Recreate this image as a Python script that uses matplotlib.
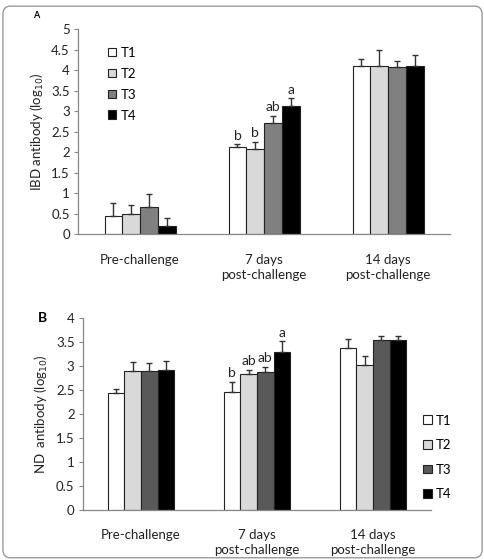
import numpy as np
import matplotlib.pyplot as plt
from matplotlib.patches import FancyBboxPatch

plt.rcParams['font.family'] = ['Lato', 'DejaVu Sans']

groups = ["Pre-challenge", "7 days\npost-challenge", "14 days\npost-challenge"]
treatments = ["T1", "T2", "T3", "T4"]

# IBD antibody (log10) means and upper SE
ibd_mean = [[0.43, 2.12, 4.10],
            [0.50, 2.07, 4.10],
            [0.67, 2.70, 4.07],
            [0.19, 3.12, 4.10]]
ibd_err = [[0.32, 0.07, 0.18],
           [0.20, 0.18, 0.38],
           [0.30, 0.18, 0.16],
           [0.20, 0.19, 0.28]]
ibd_letters = [["", "b", ""], ["", "b", ""], ["", "ab", ""], ["", "a", ""]]

# ND antibody (log10)
nd_mean = [[2.43, 2.46, 3.37],
           [2.90, 2.83, 3.01],
           [2.89, 2.87, 3.53],
           [2.92, 3.30, 3.55]]
nd_err = [[0.10, 0.20, 0.20],
          [0.18, 0.09, 0.19],
          [0.17, 0.11, 0.09],
          [0.18, 0.21, 0.08]]
nd_letters = [["", "b", ""], ["", "ab", ""], ["", "ab", ""], ["", "a", ""]]

colors_a = ["#ffffff", "#d9d9d9", "#808080", "#000000"]
colors_b = ["#ffffff", "#d9d9d9", "#595959", "#000000"]


def draw_panel(ax, mean, err, letters, colors, ymax, ylabel):
    x = np.arange(len(groups))
    width = 0.143
    for i in range(len(treatments)):
        pos = x + (i - 1.5) * width
        ax.bar(pos, mean[i], width, color=colors[i], edgecolor="#222222",
               linewidth=0.8, label=treatments[i], zorder=2)
        ax.errorbar(pos, mean[i], yerr=[np.zeros(len(groups)), err[i]],
                    fmt="none", ecolor="#333333", elinewidth=1.0,
                    capsize=2.5, capthick=1.0, zorder=3)
        for j in range(len(groups)):
            if letters[i][j]:
                ax.annotate(letters[i][j], (pos[j], mean[i][j] + err[i][j]),
                            xytext=(0, 2), textcoords="offset points",
                            ha="center", va="bottom", fontsize=10, color="#222222")
    ax.set_xlim(-0.5, len(groups) - 0.5)
    ax.set_ylim(0, ymax)
    ax.set_yticks(np.arange(0, ymax + 0.01, 0.5))
    ax.set_yticklabels(["%g" % v for v in np.arange(0, ymax + 0.01, 0.5)])
    ax.set_xticks(x)
    ax.set_xticklabels(groups, fontsize=9.5, color="#222222", linespacing=1.3)
    ax.tick_params(axis="x", length=0, pad=14)
    ax.tick_params(axis="y", length=3, width=0.8, color="#888888",
                   labelsize=9.5, labelcolor="#222222", pad=3)
    for s in ["top", "right"]:
        ax.spines[s].set_visible(False)
    for s in ["left", "bottom"]:
        ax.spines[s].set_color("#888888")
        ax.spines[s].set_linewidth(0.9)
    ax.set_ylabel(ylabel, fontsize=9.5, color="#222222", labelpad=4)


fig = plt.figure(figsize=(4.85, 5.6), dpi=100)
fig.patches.append(FancyBboxPatch((0.006, 0.004), 0.988, 0.985,
                                  boxstyle="round,pad=0,rounding_size=0.015",
                                  transform=fig.transFigure, fill=False,
                                  edgecolor="#9a9a9a", linewidth=1.0))

ax1 = fig.add_axes([0.161, 0.582, 0.767, 0.366])
draw_panel(ax1, ibd_mean, ibd_err, ibd_letters, colors_a, 5, "IBD antibody (log$_{10}$)")
ax1.legend(loc="upper left", bbox_to_anchor=(0.198, 0.938),
           bbox_transform=fig.transFigure, frameon=False,
           handlelength=0.65, handleheight=0.65, handletextpad=0.3,
           labelspacing=0.68, fontsize=9.5)

ax2 = fig.add_axes([0.171, 0.0893, 0.7175, 0.343])
draw_panel(ax2, nd_mean, nd_err, nd_letters, colors_b, 4, "ND  antibody (log$_{10}$)")
ax2.legend(loc="upper left", bbox_to_anchor=(0.848, 0.281),
           bbox_transform=fig.transFigure, frameon=False,
           handlelength=0.65, handleheight=0.65, handletextpad=0.3,
           labelspacing=0.95, fontsize=9.5)

fig.text(0.068, 0.973, "A", fontsize=6.5, fontweight="bold", ha="left", va="center")
fig.text(0.078, 0.432, "B", fontsize=10, fontweight="bold", ha="left", va="center")

fig.savefig("out.png", dpi=100)
